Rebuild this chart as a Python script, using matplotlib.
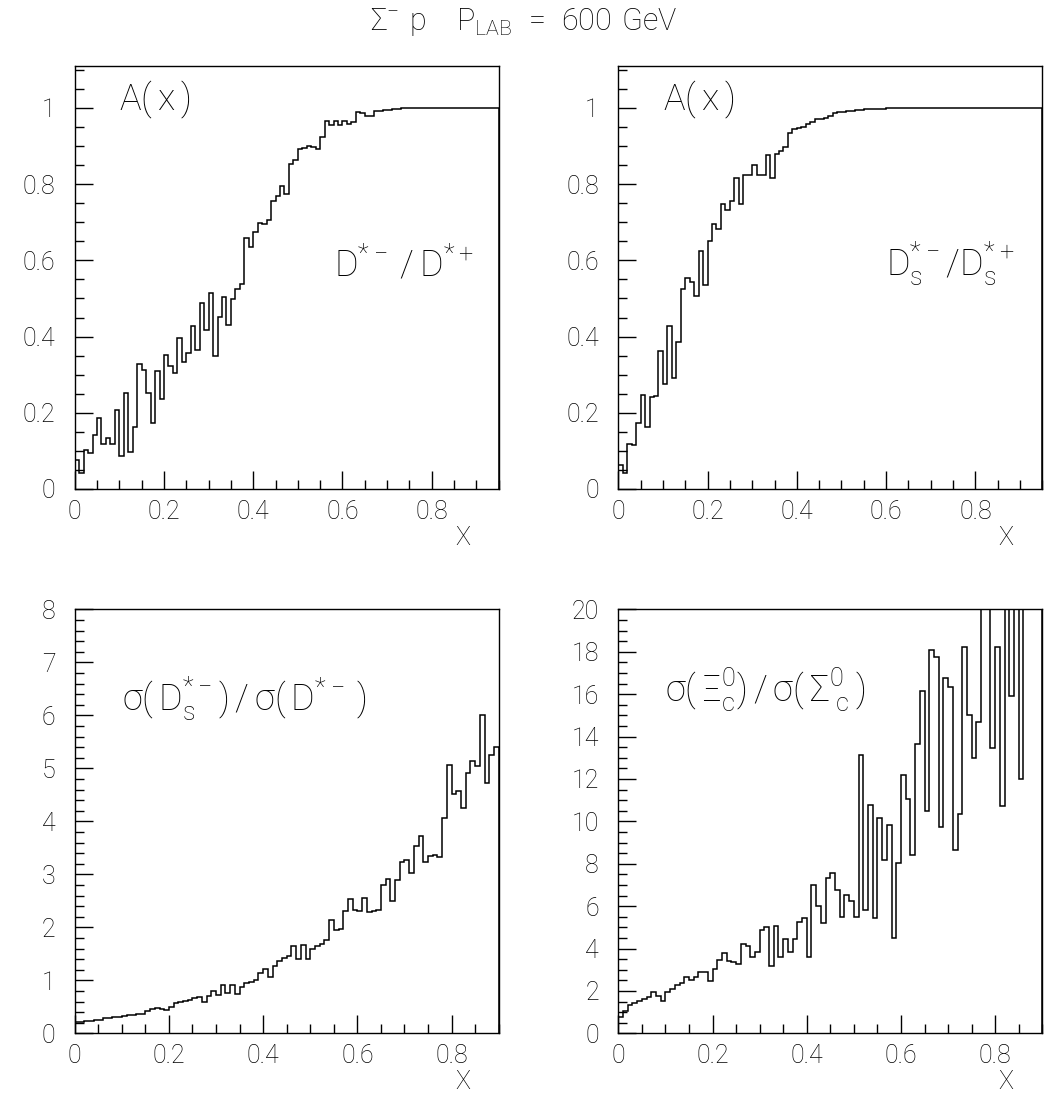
import numpy as np
import matplotlib
matplotlib.use("Agg")
import matplotlib.pyplot as plt
from matplotlib.ticker import MultipleLocator

plt.rcParams['font.family'] = ['Roboto', 'DejaVu Sans']
plt.rcParams['font.weight'] = 'light'
plt.rcParams['mathtext.default'] = 'regular'

# ---------------------------------------------------------------
# Data: histogram contents, bins of width 0.01 in x
# ---------------------------------------------------------------
# A(x) for D*-/D*+  (x from 0 to 0.95)
a_dstar = [0.076, 0.041, 0.102, 0.094, 0.142, 0.186, 0.117, 0.133, 0.117, 0.208,
           0.087, 0.251, 0.098, 0.164, 0.329, 0.313, 0.251, 0.174, 0.310, 0.236,
           0.352, 0.323, 0.304, 0.396, 0.332, 0.358, 0.429, 0.365, 0.488, 0.418,
           0.514, 0.350, 0.451, 0.505, 0.431, 0.498, 0.525, 0.539, 0.659, 0.634,
           0.674, 0.698, 0.696, 0.705, 0.755, 0.770, 0.795, 0.774, 0.853, 0.863,
           0.893, 0.895, 0.900, 0.897, 0.893, 0.924, 0.965, 0.955, 0.966, 0.955,
           0.966, 0.958, 0.962, 0.988, 0.986, 0.978, 0.980, 0.992, 0.993, 0.995,
           0.994, 0.997, 0.998, 0.999, 1.000, 1.000, 1.000, 1.000, 1.000, 1.000,
           1.000, 1.000, 1.000, 1.000, 1.000, 1.000, 1.000, 1.000, 1.000, 1.000,
           1.000, 1.000, 1.000, 1.000, 1.000]

# A(x) for Ds*-/Ds*+  (x from 0 to 0.95)
a_dsstar = [0.063, 0.043, 0.118, 0.116, 0.174, 0.247, 0.164, 0.241, 0.244, 0.361,
            0.276, 0.427, 0.291, 0.385, 0.526, 0.554, 0.542, 0.507, 0.624, 0.536,
            0.652, 0.696, 0.682, 0.749, 0.733, 0.757, 0.816, 0.749, 0.823, 0.825,
            0.851, 0.823, 0.823, 0.876, 0.816, 0.880, 0.887, 0.897, 0.933, 0.945,
            0.948, 0.950, 0.957, 0.963, 0.970, 0.972, 0.974, 0.980, 0.987, 0.988,
            0.990, 0.991, 0.993, 0.994, 0.995, 0.996, 0.997, 0.997, 0.998, 0.998,
            0.999, 0.999, 1.000, 1.000, 1.000, 1.000, 1.000, 1.000, 1.000, 1.000,
            1.000, 1.000, 1.000, 1.000, 1.000, 1.000, 1.000, 1.000, 1.000, 1.000,
            1.000, 1.000, 1.000, 1.000, 1.000, 1.000, 1.000, 1.000, 1.000, 1.000,
            1.000, 1.000, 1.000, 1.000, 1.000]

# sigma(Ds*-)/sigma(D*-)  (x from 0 to 0.9)
r_ds_d = [0.22, 0.22, 0.23, 0.24, 0.25, 0.26, 0.28, 0.29, 0.30, 0.31,
          0.33, 0.34, 0.35, 0.36, 0.37, 0.42, 0.45, 0.48, 0.46, 0.44,
          0.50, 0.58, 0.59, 0.61, 0.63, 0.66, 0.68, 0.60, 0.70, 0.79,
          0.72, 0.91, 0.76, 0.91, 0.74, 0.87, 0.94, 0.97, 1.00, 1.13,
          1.21, 1.06, 1.27, 1.37, 1.42, 1.45, 1.65, 1.40, 1.67, 1.40,
          1.60, 1.65, 1.69, 1.76, 2.14, 1.95, 1.97, 2.31, 2.53, 2.33,
          2.30, 2.55, 2.28, 2.30, 2.33, 2.80, 2.91, 2.50, 2.90, 3.24,
          3.27, 3.03, 3.53, 3.72, 3.24, 3.35, 3.37, 3.33, 4.06, 5.06,
          4.52, 4.58, 4.25, 4.92, 5.14, 5.05, 6.00, 4.73, 5.25, 5.41]

# sigma(Xi_c0)/sigma(Sigma_c0)  (x from 0 to 0.9), values above 20 run off scale
r_xi_sig = [0.75, 1.05, 1.35, 1.42, 1.53, 1.60, 1.73, 1.97, 1.76, 1.54,
            1.97, 2.08, 2.28, 2.39, 2.64, 2.52, 2.67, 2.88, 2.88, 2.47,
            3.03, 3.46, 3.77, 3.41, 3.38, 3.27, 4.20, 4.14, 3.62, 3.85,
            4.87, 5.03, 3.19, 5.06, 3.62, 4.45, 3.82, 4.45, 5.24, 5.46,
            3.60, 7.00, 6.00, 5.22, 7.31, 7.58, 6.76, 5.47, 6.53, 6.26,
            5.50, 13.13, 5.82, 10.77, 5.46, 10.14, 8.18, 9.83, 4.48, 8.02,
            12.19, 11.05, 8.41, 13.65, 16.16, 10.50, 18.08, 17.74, 9.75, 16.75,
            16.35, 8.65, 10.35, 18.20, 15.00, 13.00, 14.67, 23.0, 26.0, 13.44,
            18.24, 10.74, 22.5, 15.90, 24.0, 11.98, 25.0, 28.0, 24.0, 30.0]

BIN = 0.01

# ---------------------------------------------------------------
# Figure layout (PAW-like 2x2 zone)
# ---------------------------------------------------------------
W, H = 1047, 1104
fig = plt.figure(figsize=(W / 100, H / 100), dpi=100)

def px_axes(x0, y0, x1, y1):
    return fig.add_axes([x0 / W, 1 - y1 / H, (x1 - x0) / W, (y1 - y0) / H])

ax1 = px_axes(74.7, 66, 498.7, 489)
ax2 = px_axes(618.3, 66, 1042.3, 489)
ax3 = px_axes(74.7, 609.3, 498.7, 1033.3)
ax4 = px_axes(618.3, 609.3, 1042.3, 1033.3)

TICK_FS = 18
LABEL_FS = 26


def style(ax, xmax, ymax, ymaj, ymin, yfmt):
    edges = np.arange(0, xmax + BIN / 2, BIN)
    ax.set_xlim(0, xmax)
    ax.set_ylim(0, ymax)
    ax.xaxis.set_major_locator(MultipleLocator(0.2))
    ax.xaxis.set_minor_locator(MultipleLocator(0.05))
    ax.yaxis.set_major_locator(MultipleLocator(ymaj))
    ax.yaxis.set_minor_locator(MultipleLocator(ymin))
    ax.tick_params(which='both', direction='in', top=False, right=False,
                   width=1.0, labelsize=TICK_FS, color='black')
    ax.tick_params(which='major', length=13)
    ax.tick_params(which='minor', length=6.5)
    ax.tick_params(axis='x', pad=8)
    ax.tick_params(axis='y', pad=14)
    ax.xaxis.set_major_formatter(plt.FuncFormatter(
        lambda v, p: '0' if abs(v) < 1e-9 else f'{v:.1f}'))
    ax.yaxis.set_major_formatter(plt.FuncFormatter(yfmt))
    for s in ax.spines.values():
        s.set_linewidth(1.0)
    return edges


def fmt_frac(v, p):
    if abs(v) < 1e-9:
        return '0'
    if abs(v - 1) < 1e-9:
        return '1'
    return f'{v:.1f}'


def fmt_int(v, p):
    return f'{int(round(v))}'


e1 = style(ax1, 0.95, 1.11, 0.2, 0.05, fmt_frac)
ax1.stairs(a_dstar, e1, color='black', linewidth=1.1)
ax1.text(0.10, 1.02, r'$\mathregular{A(\,x\,)}$', fontsize=LABEL_FS, va='center')
ax1.text(0.58, 0.59, r'$\mathregular{D^{*-}\,/\,D^{*+}}$', fontsize=LABEL_FS, va='center')

e2 = style(ax2, 0.95, 1.11, 0.2, 0.05, fmt_frac)
ax2.stairs(a_dsstar, e2, color='black', linewidth=1.1)
ax2.text(0.10, 1.02, r'$\mathregular{A(\,x\,)}$', fontsize=LABEL_FS, va='center')
ax2.text(0.60, 0.59, r'$\mathregular{D^{*-}_{s}/D^{*+}_{s}}$', fontsize=LABEL_FS, va='center')

e3 = style(ax3, 0.9, 8, 1, 0.2, fmt_int)
ax3.stairs(r_ds_d, e3, color='black', linewidth=1.1)
ax3.text(0.10, 6.3, r'$\mathregular{\sigma(\,D^{*-}_{s})\,/\,\sigma(\,D^{*-}\,)}$',
         fontsize=LABEL_FS, va='center')

e4 = style(ax4, 0.9, 20, 2, 0.5, fmt_int)
ax4.stairs(r_xi_sig, e4, color='black', linewidth=1.1)
ax4.text(0.10, 16.2, r'$\mathregular{\sigma(\,\Xi^{0}_{c})\,/\,\sigma(\,\Sigma^{0}_{\;c}\,)}$',
         fontsize=LABEL_FS, va='center')

# axis titles "X" at the right end of each x axis
for ax in (ax1, ax2, ax3, ax4):
    ax.text(0.915, -0.115, 'X', transform=ax.transAxes, fontsize=TICK_FS,
            ha='center', va='center')

fig.text(0.5, 1 - 22 / H, r'$\mathregular{\Sigma^{-}\ p\quad P_{LAB}\ =\ 600\ GeV}$',
         fontsize=22, ha='center', va='center')

fig.savefig('out.png', dpi=100)
